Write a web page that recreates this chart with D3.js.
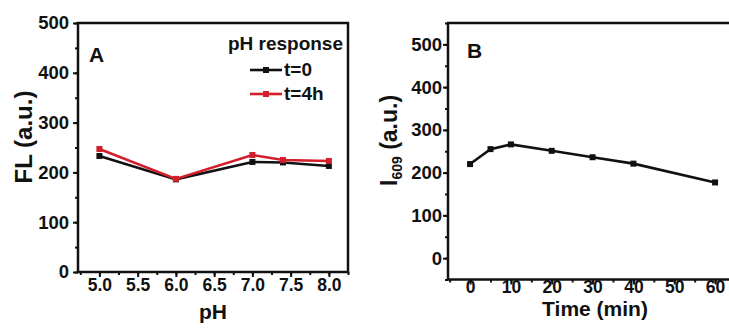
<!DOCTYPE html>
<html>
<head>
<meta charset="utf-8">
<script src="https://cdn.jsdelivr.net/npm/d3@7"></script>
<style>
  body { margin: 0; background: #fff; }
  svg text { font-family: "Liberation Sans", Arial, sans-serif; font-weight: bold; fill: #111; }
</style>
</head>
<body>
<svg id="chart" width="729" height="329"></svg>
<script>
// panel A: pH response
const phValues = [5.0, 6.0, 7.0, 7.4, 8.0];
const flT0 = [233, 186, 221, 220, 213];
const flT4h = [247, 187, 235, 225, 223];
const phTicks = [5.0, 5.5, 6.0, 6.5, 7.0, 7.5, 8.0];
const flTicks = [0, 100, 200, 300, 400, 500];

// panel B: time course
const timeValues = [0, 5, 10, 20, 30, 40, 60];
const i609 = [220, 255, 266, 251, 236, 221, 177];
const timeTicks = [0, 10, 20, 30, 40, 50, 60];
const i609Ticks = [0, 100, 200, 300, 400, 500];

const svg = d3.select("#chart");
const ink = "#111";
const red = "#d21f2b";

// draws ticks (major + minor) for one axis, no domain line
function ticks(g, axisFn, scale, major, minor, fmt, pad, size) {
    g.append("g")
        .call(axisFn(scale).tickValues(minor).tickSize(3).tickFormat(""))
        .call(s => s.select(".domain").remove())
        .call(s => s.selectAll("line").attr("stroke", ink).attr("stroke-width", 2));
    const a = g.append("g")
        .call(axisFn(scale).tickValues(major).tickSize(5).tickPadding(pad).tickFormat(fmt))
        .call(s => s.select(".domain").remove())
        .call(s => s.selectAll("line").attr("stroke", ink).attr("stroke-width", 2));
    a.selectAll("text").attr("font-size", size).attr("fill", ink)
        .style("font-family", '"Liberation Sans", Arial, sans-serif').style("font-weight", "bold");
    return a;
}

// ---------- Panel A ----------
const xA = d3.scaleLinear().domain([4.72, 8.25]).range([78, 348]);
const yA = d3.scaleLinear().domain([0, 500]).range([272, 23]);

const gA = svg.append("g");
const xAxA = gA.append("g").attr("transform", `translate(0,${yA(0)})`);
ticks(xAxA, d3.axisBottom, xA, phTicks, d3.range(4.75, 8.26, 0.25), d3.format(".1f"), 2, 17.5);
const yAxA = gA.append("g").attr("transform", `translate(${xA.range()[0]},0)`);
ticks(yAxA, d3.axisLeft, yA, flTicks, d3.range(0, 501, 50), d3.format("d"), 4, 18.5);

gA.append("rect")
    .attr("x", xA.range()[0]).attr("y", yA.range()[1])
    .attr("width", xA.range()[1] - xA.range()[0])
    .attr("height", yA.range()[0] - yA.range()[1])
    .attr("fill", "none").attr("stroke", ink).attr("stroke-width", 2.5);

const lineA = (vals) => d3.line().x((d, i) => xA(phValues[i])).y(d => yA(d))(vals);

[[flT0, ink], [flT4h, red]].forEach(([vals, col]) => {
    gA.append("path").attr("d", lineA(vals))
        .attr("fill", "none").attr("stroke", col).attr("stroke-width", 2.6);
    gA.selectAll(null).data(vals).enter().append("rect")
        .attr("x", (d, i) => xA(phValues[i]) - 3).attr("y", d => yA(d) - 3)
        .attr("width", 6).attr("height", 6).attr("fill", col);
});

gA.append("text").attr("x", 89).attr("y", 62).attr("font-size", 21).text("A");
gA.append("text").attr("x", 343).attr("y", 50).attr("font-size", 19)
    .attr("text-anchor", "end").text("pH response");

[["t=0", ink, 70], ["t=4h", red, 94]].forEach(([lab, col, y]) => {
    gA.append("line").attr("x1", 250).attr("x2", 282).attr("y1", y).attr("y2", y)
        .attr("stroke", col).attr("stroke-width", 2.6);
    gA.append("rect").attr("x", 263).attr("y", y - 3).attr("width", 6).attr("height", 6).attr("fill", col);
    gA.append("text").attr("x", 284).attr("y", y + 6).attr("font-size", 19).text(lab);
});

gA.append("text").attr("x", 213).attr("y", 319).attr("font-size", 21)
    .attr("text-anchor", "middle").text("pH");
gA.append("text").attr("transform", "translate(32,137) rotate(-90)")
    .attr("font-size", 24).attr("text-anchor", "middle").text("FL (a.u.)");

// ---------- Panel B ----------
const xB = d3.scaleLinear().domain([-5.4, 65]).range([448, 735.5]);
const yB = d3.scaleLinear().domain([-50, 550]).range([279.5, 23]);

const gB = svg.append("g");
const xAxB = gB.append("g").attr("transform", `translate(0,${yB.range()[0]})`);
ticks(xAxB, d3.axisBottom, xB, timeTicks, d3.range(-5, 66, 5), d3.format("d"), -4, 17.5);
const yAxB = gB.append("g").attr("transform", `translate(${xB.range()[0]},0)`);
ticks(yAxB, d3.axisLeft, yB, i609Ticks, d3.range(-50, 551, 50), d3.format("d"), 1, 18.5);

gB.append("rect")
    .attr("x", xB.range()[0]).attr("y", yB.range()[1])
    .attr("width", xB.range()[1] - xB.range()[0])
    .attr("height", yB.range()[0] - yB.range()[1])
    .attr("fill", "none").attr("stroke", ink).attr("stroke-width", 2.5);

gB.append("path")
    .attr("d", d3.line().x((d, i) => xB(timeValues[i])).y(d => yB(d))(i609))
    .attr("fill", "none").attr("stroke", ink).attr("stroke-width", 2.6);
gB.selectAll(null).data(i609).enter().append("rect")
    .attr("x", (d, i) => xB(timeValues[i]) - 3).attr("y", d => yB(d) - 3)
    .attr("width", 6).attr("height", 6).attr("fill", ink);

gB.append("text").attr("x", 467).attr("y", 58).attr("font-size", 21).text("B");

gB.append("text").attr("x", 595).attr("y", 316).attr("font-size", 21)
    .attr("text-anchor", "middle").text("Time (min)");

const yTitleB = gB.append("text").attr("transform", "translate(397,186) rotate(-90)")
    .attr("font-size", 23);
yTitleB.append("tspan").text("I");
yTitleB.append("tspan").attr("font-size", 14).attr("dy", 5).text("609");
yTitleB.append("tspan").attr("dy", -5).text(" (a.u.)");
</script>
</body>
</html>
